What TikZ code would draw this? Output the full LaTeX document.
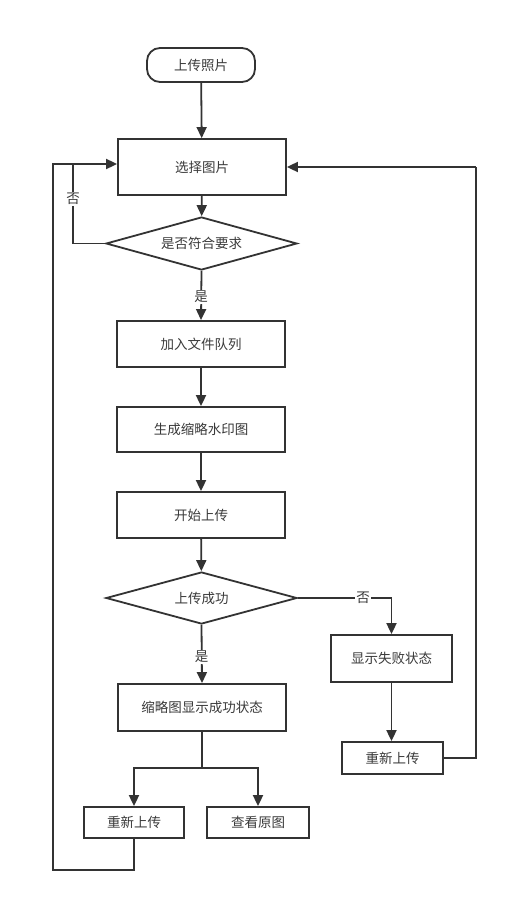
\documentclass[tikz,border=0pt]{standalone}
\usepackage{fontspec}
\setmainfont{Noto Sans CJK SC}
\usetikzlibrary{shapes.geometric,arrows.meta}
\definecolor{ln}{HTML}{333333}
\definecolor{tx}{HTML}{3A3A3A}
\begin{document}
\begin{tikzpicture}[x=1pt,y=-1pt,
  every node/.style={font=\fontsize{13.5}{15}\selectfont, text=tx},
  box/.style={draw=ln, line width=1.8pt, rectangle, inner sep=0pt, minimum width=168pt},
  dia/.style={draw=ln, line width=1.8pt, diamond, aspect=3.6, inner sep=0pt, minimum width=191pt, minimum height=53pt},
  term/.style={draw=ln, line width=1.8pt, rectangle, rounded corners=13pt, inner sep=0pt, minimum width=108pt, minimum height=34pt},
  arr/.style={draw=ln, line width=1.8pt, -{Triangle[length=11pt,width=10pt]}},
  lnk/.style={draw=ln, line width=1.8pt},
  lbl/.style={fill=white, inner sep=1pt}]
\fill[white] (0,0) rectangle (508,899);
\useasboundingbox (0,0) rectangle (508,899);

\node[term] (start) at (201,65) {上传照片};
\node[box, minimum height=56pt] (sel) at (202,167) {选择图片};
\node[dia] (chk) at (201.5,243.5) {是否符合要求};
\node[box, minimum height=46pt] (add) at (201,344) {加入文件队列};
\node[box, minimum height=45pt] (gen) at (201,429.5) {生成缩略水印图};
\node[box, minimum height=46pt] (beg) at (201,515) {开始上传};
\node[dia, minimum height=52pt] (ok) at (201.5,598) {上传成功};
\node[box, minimum height=47pt] (thumb) at (202,707.5) {缩略图显示成功状态};
\node[box, minimum width=100pt, minimum height=31pt] (re1) at (134,822.5) {重新上传};
\node[box, minimum width=102pt, minimum height=31pt] (view) at (258,822.5) {查看原图};
\node[box, minimum width=121pt, minimum height=47pt] (fail) at (391.5,658.5) {显示失败状态};
\node[box, minimum width=101pt, minimum height=32pt] (re2) at (392.5,758) {重新上传};

\coordinate (lp) at (73,164);
\coordinate (split) at (202,768);
\coordinate (rx) at (476,167);

\draw[arr] (start) -- (sel);
\draw[arr] (sel) -- (chk);
\draw[lnk] (chk.west) -| (lp);
\draw[arr] (lp) -- (sel.west |- lp);
\node[lbl] (no1) at (73,199) {否};
\draw[arr] (chk.south) -- (add.north);
\node[lbl] (yes1) at (201,297) {是};
\draw[arr] (add) -- (gen);
\draw[arr] (gen) -- (beg);
\draw[arr] (beg) -- (ok);
\draw[arr] (ok.east) -| (fail.north);
\node[lbl] (no2) at (363,598) {否};
\draw[arr] (ok.south) -- (thumb.north);
\node[lbl] (yes2) at (201.5,657) {是};
\draw[lnk] (thumb.south) -- (split);
\draw[arr] (split) -| (re1.north);
\draw[arr] (split) -| (view.north);
\draw[lnk] (re1.south) -- (134,870) -- (53,870) -- (53,164) -- (lp);
\draw[arr] (fail.south) -- (re2.north -| fail.south);
\draw[lnk] (re2.east) -- (re2.east -| rx) -- (rx);
\draw[arr] (rx) -- (sel.east);
\end{tikzpicture}
\end{document}
